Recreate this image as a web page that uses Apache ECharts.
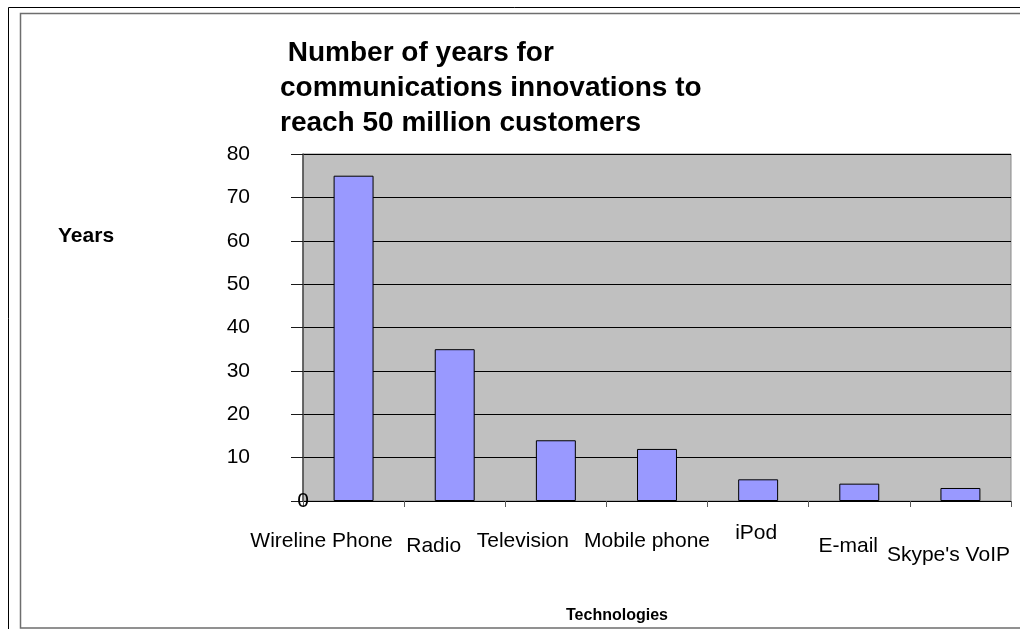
<!DOCTYPE html>
<html>
<head>
<meta charset="utf-8">
<title>Number of years for communications innovations to reach 50 million customers</title>
<script src="https://cdn.jsdelivr.net/npm/echarts@6/dist/echarts.min.js"></script>
<style>
  html, body { margin: 0; padding: 0; background: #ffffff; }
  #chart { width: 1020px; height: 629px; }
</style>
</head>
<body>
<div id="chart"></div>
<script>
// Years each technology needed to reach 50 million customers
const technologies = ['Wireline Phone', 'Radio', 'Television', 'Mobile phone', 'iPod', 'E-mail', "Skype's VoIP"];
const years = [75, 35, 14, 12, 5, 4, 3];
const yTicks = [0, 10, 20, 30, 40, 50, 60, 70, 80];

const FONT = '"Liberation Sans", Arial, sans-serif';

// Staggered placement of the category labels: [shift down, shift left]
const labelPlacement = [[30, 32], [35, 21], [30, 33], [30, 10], [22, 2], [35, 11], [44, 12]];
const labelRich = {};
labelPlacement.forEach(function (p, i) {
  labelRich['c' + i] = {
    fontFamily: FONT, fontSize: 21, color: '#000',
    padding: [p[0], p[1] * 2, 0, 0]
  };
});

const chart = echarts.init(document.getElementById('chart'), null, { renderer: 'canvas' });

chart.setOption({
  animation: false,
  backgroundColor: '#ffffff',
  textStyle: { fontFamily: FONT },
  title: [
    {
      text: ' Number of years for\ncommunications innovations to\nreach 50 million customers',
      left: 280, top: 36, padding: 0,
      textStyle: { fontFamily: FONT, fontSize: 28, fontWeight: 'bold', color: '#000', lineHeight: 35 }
    },
    {
      text: 'Years', left: 58, top: 226, padding: 0,
      textStyle: { fontFamily: FONT, fontSize: 21, fontWeight: 'bold', color: '#000' }
    },
    {
      text: 'Technologies', left: 566, top: 608, padding: 0,
      textStyle: { fontFamily: FONT, fontSize: 16, fontWeight: 'bold', color: '#000' }
    }
  ],
  graphic: [
    { type: 'polyline', silent: true,
      shape: { points: [[8.5, 640], [8.5, 7.5], [1030, 7.5]] },
      style: { stroke: '#000', lineWidth: 1, fill: null } },
    { type: 'polyline', silent: true,
      shape: { points: [[1030, 13.5], [20.5, 13.5], [20.5, 628], [1030, 628]] },
      style: { stroke: '#6e6e6e', lineWidth: 1.5, fill: null } }
  ],
  grid: {
    left: 303, right: 9, top: 154, bottom: 128,
    show: true, backgroundColor: '#c0c0c0',
    borderColor: '#8a8a8a', borderWidth: 1
  },
  xAxis: {
    type: 'category',
    data: technologies,
    boundaryGap: true,
    axisLine: { show: true, lineStyle: { color: '#000', width: 1 } },
    axisTick: { show: true, alignWithLabel: false, length: 6, inside: false,
      lineStyle: { color: '#5a5a5a', width: 1 } },
    axisLabel: {
      interval: 0, margin: 0, hideOverlap: false,
      formatter: function (v, i) { return '{c' + i + '|' + v + '}'; },
      rich: labelRich
    },
    splitLine: { show: false }
  },
  yAxis: [
    {
      type: 'value', position: 'left',
      min: yTicks[0], max: yTicks[yTicks.length - 1], interval: yTicks[1] - yTicks[0],
      axisLine: { show: true, lineStyle: { color: '#4a4a4a', width: 1.5 } },
      axisTick: { show: true, length: 12, lineStyle: { color: '#1a1a1a', width: 1 } },
      axisLabel: {
        margin: 53, fontFamily: FONT, fontSize: 21, color: '#000',
        formatter: function (v) { return v === 0 ? '' : String(v); }
      },
      splitLine: { show: true, lineStyle: { color: '#000', width: 1 } }
    },
    {
      // zero label sits right on the axis line
      type: 'value', position: 'left', offset: 0,
      min: yTicks[0], max: yTicks[yTicks.length - 1], interval: yTicks[1] - yTicks[0],
      axisLine: { show: false }, axisTick: { show: false }, splitLine: { show: false },
      axisLabel: {
        margin: 0, align: 'center', fontFamily: FONT, fontSize: 21, color: '#000',
        formatter: function (v) { return v === 0 ? '0' : ''; }
      }
    }
  ],
  series: [
    {
      type: 'bar',
      data: years,
      yAxisIndex: 0,
      barWidth: '39.5%',
      itemStyle: { color: '#9999ff', borderColor: '#000', borderWidth: 1 }
    }
  ]
});
</script>
</body>
</html>
